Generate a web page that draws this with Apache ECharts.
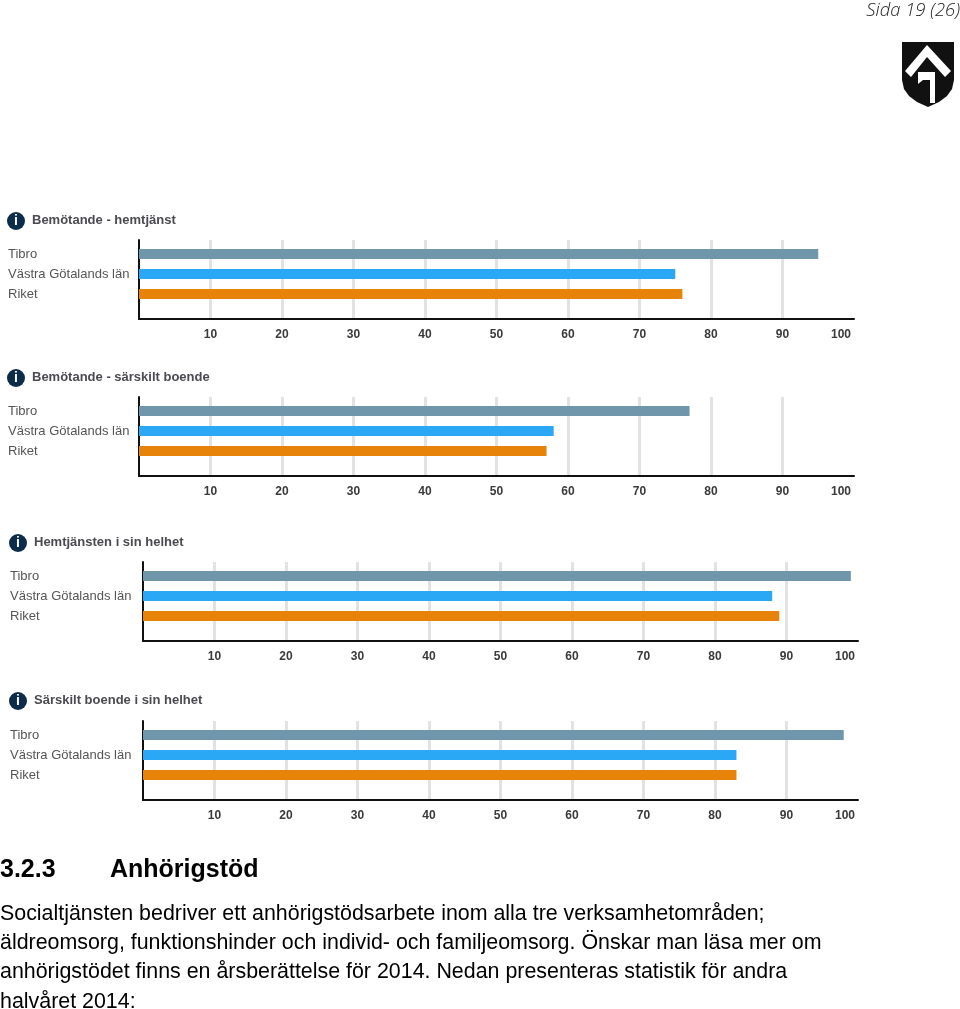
<!DOCTYPE html>
<html>
<head>
<meta charset="utf-8">
<style>
  html, body { margin: 0; padding: 0; background: #fff; }
  #main { width: 960px; height: 1009px; }
</style>
<script src="https://cdn.jsdelivr.net/npm/echarts@6/dist/echarts.min.js"></script>
</head>
<body>
<div id="main"></div>
<script>
  // data
  var categories = ['Tibro', 'Västra Götalands län', 'Riket'];
  var chartTitles = ['Bemötande - hemtjänst', 'Bemötande - särskilt boende', 'Hemtjänsten i sin helhet', 'Särskilt boende i sin helhet'];
  var tibro = [95, 77, 99, 98];
  var vastra = [75, 58, 88, 83];
  var riket = [76, 57, 89, 83];
  var barColors = ['#6f96aa', '#2aa8f5', '#e8830a'];
  var textLines = [
    'Socialtjänsten bedriver ett anhörigstödsarbete inom alla tre verksamhetområden;',
    'äldreomsorg, funktionshinder och individ- och familjeomsorg. Önskar man läsa mer om',
    'anhörigstödet finns en årsberättelse för 2014. Nedan presenteras statistik för andra',
    'halvåret 2014:'
  ];

  // placement of the four small charts
  var layout = [
    { x: 139, top: 240, axis: 319, bar: 244, titleY: 220, labelX: 8 },
    { x: 139, top: 397, axis: 476, bar: 401, titleY: 377, labelX: 8 },
    { x: 143, top: 562, axis: 641, bar: 566, titleY: 542, labelX: 10 },
    { x: 143, top: 721, axis: 800, bar: 725, titleY: 700, labelX: 10 }
  ];

  var tickFont = { color: '#3a3a3a', fontWeight: 'bold', fontSize: 12, fontFamily: 'Liberation Sans' };
  var grid = [], xAxis = [], yAxis = [], series = [], graphic = [];

  layout.forEach(function (p, i) {
    var frame = i * 2, bars = i * 2 + 1;

    // frame grid: axis lines, gridlines and tick labels
    grid.push({ left: p.x, top: p.top, width: 715, height: p.axis - p.top });
    xAxis.push({
      gridIndex: frame, type: 'value', min: 0, max: 100, interval: 10,
      axisLine: { show: true, onZero: false, lineStyle: { color: '#111', width: 2 } },
      axisTick: { show: false },
      splitLine: { show: true, showMinLine: false, showMaxLine: false, lineStyle: { color: '#e2e2e2', width: 3 } },
      axisLabel: Object.assign({
        showMinLabel: false, alignMaxLabel: 'right', margin: 10,
        formatter: function (v) { return v === 100 ? '{last|100}' : v; },
        rich: { last: Object.assign({ padding: [0, 3, 0, 0] }, tickFont) }
      }, tickFont)
    });
    yAxis.push({
      gridIndex: frame, type: 'value', min: 0, max: 1,
      axisLine: { show: true, lineStyle: { color: '#111', width: 2 } },
      axisTick: { show: false }, axisLabel: { show: false }, splitLine: { show: false }
    });

    // bar grid: the three rows sit 20px apart above the axis
    grid.push({ left: p.x, top: p.bar, width: 715, height: 60 });
    xAxis.push({ gridIndex: bars, type: 'value', min: 0, max: 100, show: false });
    yAxis.push({
      gridIndex: bars, type: 'category', inverse: true, data: categories,
      axisLine: { show: false }, axisTick: { show: false },
      axisLabel: {
        color: '#555', fontSize: 13, fontFamily: 'Liberation Sans', align: 'left',
        margin: p.x - p.labelX
      }
    });
    series.push({
      type: 'bar', xAxisIndex: bars, yAxisIndex: bars, barWidth: 10, silent: true,
      data: [tibro[i], vastra[i], riket[i]].map(function (v, k) {
        return { value: v, itemStyle: { color: barColors[k] } };
      })
    });

    // info icon and heading
    graphic.push({ type: 'circle', shape: { cx: p.labelX + 8, cy: p.titleY + 1, r: 9 }, style: { fill: '#0d2c4a' } });
    graphic.push({
      type: 'text', x: p.labelX + 8, y: p.titleY + 1,
      style: { text: 'i', fill: '#fff', font: 'bold 14px "Liberation Sans"', align: 'center', verticalAlign: 'middle' }
    });
    graphic.push({
      type: 'text', x: p.labelX + 24, y: p.titleY,
      style: { text: chartTitles[i], fill: '#4a4a50', font: 'bold 13px "Liberation Sans"', verticalAlign: 'middle' }
    });
  });

  // page header
  graphic.push({
    type: 'text', x: 960, y: 11,
    style: { text: 'Sida 19 (26)', fill: '#222', font: 'italic 300 18.4px "Open Sans"', align: 'right', verticalAlign: 'middle' }
  });
  // logo
  graphic.push({
    type: 'polygon',
    shape: { points: [[902, 42], [954, 42], [954, 80], [952, 89], [947, 96], [939, 102], [928, 107], [917, 102], [909, 96], [904, 89], [902, 80]] },
    style: { fill: '#111' }
  });
  graphic.push({ type: 'polygon', shape: { points: [[927, 45], [951, 71], [945, 77], [927, 57], [911, 77], [905, 71]] }, style: { fill: '#fff' } });
  graphic.push({ type: 'polygon', shape: { points: [[918, 72], [935, 72], [935, 103], [930, 103], [930, 80], [923, 80], [918, 84]] }, style: { fill: '#fff' } });

  // body text below the charts
  graphic.push({
    type: 'text', x: 0, y: 870,
    style: { text: '3.2.3', fill: '#000', font: 'bold 25px "Liberation Sans"', verticalAlign: 'middle' }
  });
  graphic.push({
    type: 'text', x: 110, y: 870,
    style: { text: 'Anhörigstöd', fill: '#000', font: 'bold 25px "Liberation Sans"', verticalAlign: 'middle' }
  });
  textLines.forEach(function (line, i) {
    graphic.push({
      type: 'text', x: 0, y: 914 + i * 29.3,
      style: { text: line, fill: '#000', font: '21.4px "Liberation Sans"', verticalAlign: 'middle' }
    });
  });

  var myChart = echarts.init(document.getElementById('main'), null, { renderer: 'canvas' });
  myChart.setOption({
    animation: false,
    backgroundColor: '#fff',
    grid: grid,
    xAxis: xAxis,
    yAxis: yAxis,
    series: series,
    graphic: graphic
  });
</script>
</body>
</html>
